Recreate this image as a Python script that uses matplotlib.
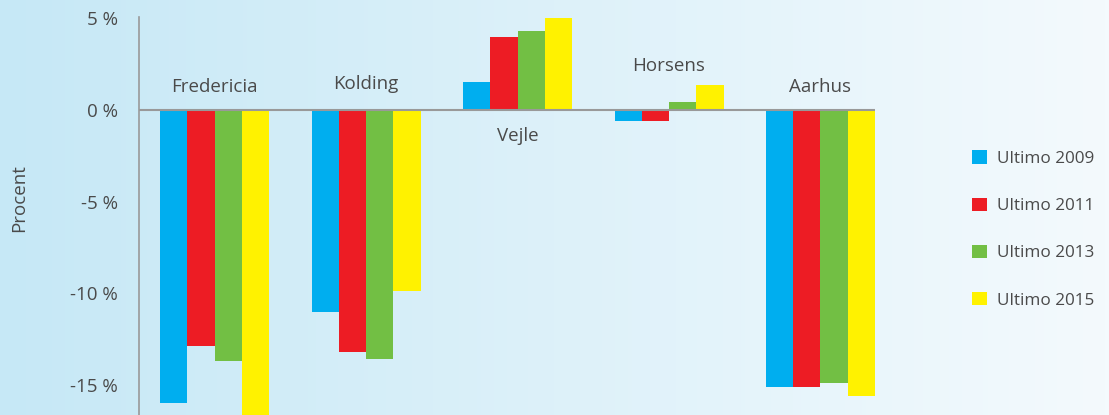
import matplotlib.pyplot as plt
import numpy as np
from matplotlib.patches import Patch

# data
cities = ['Fredericia', 'Kolding', 'Vejle', 'Horsens', 'Aarhus']
series_labels = ['Ultimo 2009', 'Ultimo 2011', 'Ultimo 2013', 'Ultimo 2015']
ultimo_2009 = [-16.0, -11.0, 1.5, -0.6, -15.1]
ultimo_2011 = [-12.9, -13.2, 4.0, -0.6, -15.1]
ultimo_2013 = [-13.7, -13.6, 4.3, 0.45, -14.9]
ultimo_2015 = [-17.0, -9.9, 5.0, 1.35, -15.6]
y_ticks = [5, 0, -5, -10, -15]

colors = ['#00aeef', '#ed1c24', '#72bf44', '#fff200']
text_color = '#4a4a4a'
# where the city names sit (in %), above or below the zero line
label_y = [1.25, 1.4, -1.4, 2.4, 1.25]
fs = 13.5

plt.rcParams['font.family'] = ['Open Sans', 'DejaVu Sans']

fig = plt.figure(figsize=(11.09, 4.15), dpi=100)

# background: horizontal gradient from light blue to near white
bg = fig.add_axes([0, 0, 1, 1], zorder=-10)
grad = np.linspace(0, 1, 256).reshape(1, -1)
left_c = np.array([198, 232, 246]) / 255
right_c = np.array([244, 250, 253]) / 255
img = left_c[None, None, :] * (1 - grad[..., None]) + right_c[None, None, :] * grad[..., None]
bg.imshow(img, aspect='auto', extent=[0, 1, 0, 1])
bg.set_axis_off()

ax = fig.add_axes([0.1253, 0.0, 0.6637, 0.959])
ax.patch.set_alpha(0)

x = np.arange(len(cities))
width = 0.18
all_series = [ultimo_2009, ultimo_2011, ultimo_2013, ultimo_2015]
for i, vals in enumerate(all_series):
    ax.bar(x + (i - 1.5) * width, vals, width, color=colors[i], linewidth=0,
           label=series_labels[i], zorder=2)

ax.axhline(0, color='#999999', linewidth=1.5, zorder=3)

for xi, name, ly in zip(x, cities, label_y):
    ax.text(xi, ly, name, ha='center', va='center', fontsize=fs, color=text_color)

ax.set_xlim(-0.5, len(cities) - 1 + 2 * width)
ax.set_ylim(-16.64, 5.07)
ax.set_yticks(y_ticks)
ax.set_yticklabels([f'{t} %' for t in y_ticks], fontsize=fs, color=text_color)
ax.tick_params(axis='y', length=0, pad=15)
ax.set_xticks([])
for side in ['top', 'right', 'bottom']:
    ax.spines[side].set_visible(False)
ax.spines['left'].set_color('#999999')
ax.spines['left'].set_linewidth(1.2)

fig.text(0.017, 0.523, 'Procent', rotation=90, ha='center', va='center',
         fontsize=fs, color=text_color)

handles = [Patch(facecolor=c, edgecolor='none') for c in colors]
fig.legend(handles, series_labels, loc='center left', bbox_to_anchor=(0.8765, 0.447),
           frameon=False, fontsize=12.3, labelspacing=1.78, handlelength=0.85,
           handleheight=0.85, handletextpad=0.6, borderpad=0, borderaxespad=0,
           labelcolor=text_color)

fig.savefig('out.png', dpi=100)
